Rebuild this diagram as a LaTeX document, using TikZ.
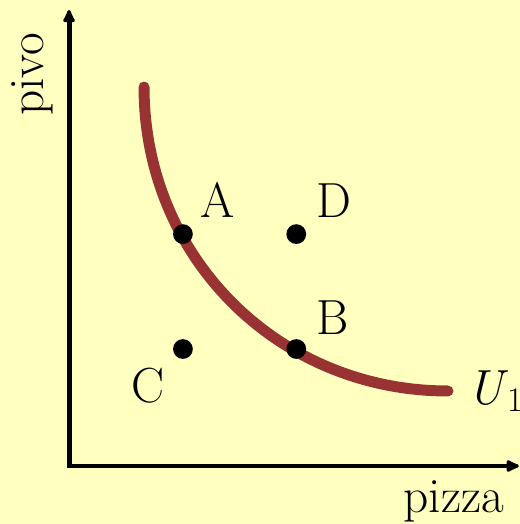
\documentclass[tikz,border=0pt]{standalone}
\usepackage{fontspec}
\usepackage{tikz}
\usetikzlibrary{positioning,arrows.meta}
\definecolor{paleyellow}{HTML}{FFFFC0}
\definecolor{curvered}{HTML}{993333}

\begin{document}
\begin{tikzpicture}[
        node distance=0.2cm,
        dot/.style={circle, fill=black, inner sep=0pt, minimum size=0.38cm},
        lbl/.style={inner sep=1pt, font=\fontsize{27}{32}\selectfont},
        axis/.style={line width=2.7pt, miter limit=10,
                     {Latex[round,length=0.31cm,width=0.28cm]}-{Latex[round,length=0.31cm,width=0.28cm]}},
        indiff/.style={line width=6pt, color=curvered, line cap=round}
      ]
        \path[use as bounding box, fill=paleyellow] (-1.308,-1.135) rectangle (8.692,8.942);

        % axes
        \coordinate (O) at (0.02,-0.02);
        \coordinate (ytip) at (0.02,8.75);
        \coordinate (xtip) at (8.67,-0.02);
        \draw[axis] (ytip)--(O)--(xtip);
        \node[lbl, rotate=90, anchor=base] (pivo) at (-0.48,7.51) {pivo};
        \node[lbl, anchor=base] (pizza) at (7.42,-0.92) {pizza};

        % indifference curve
        \coordinate (u0) at (1.462,7.269);
        \coordinate (u) at (7.308,1.423);
        \draw[indiff] (u0) .. controls (1.462,4.0) and (4.038,1.423) .. (u);
        \node[lbl, right=0.34 of u] (U1) {\textit{U}\kern-1pt\textsubscript{1}};

        % bundles
        \node[dot] (A) at (2.21,4.44) {};
        \node[dot] (D) at (4.39,4.44) {};
        \node[dot] (B) at (4.39,2.23) {};
        \node[dot] (C) at (2.21,2.23) {};
        \node[lbl, above right=0.14 and 0.16 of A] (lA) {A};
        \node[lbl, above right=0.14 and 0.20 of D] (lD) {D};
        \node[lbl, above right=0.10 and 0.20 of B] (lB) {B};
        \node[lbl, below left=0.18 and 0.18 of C] (lC) {C};
      \end{tikzpicture}
\end{document}
